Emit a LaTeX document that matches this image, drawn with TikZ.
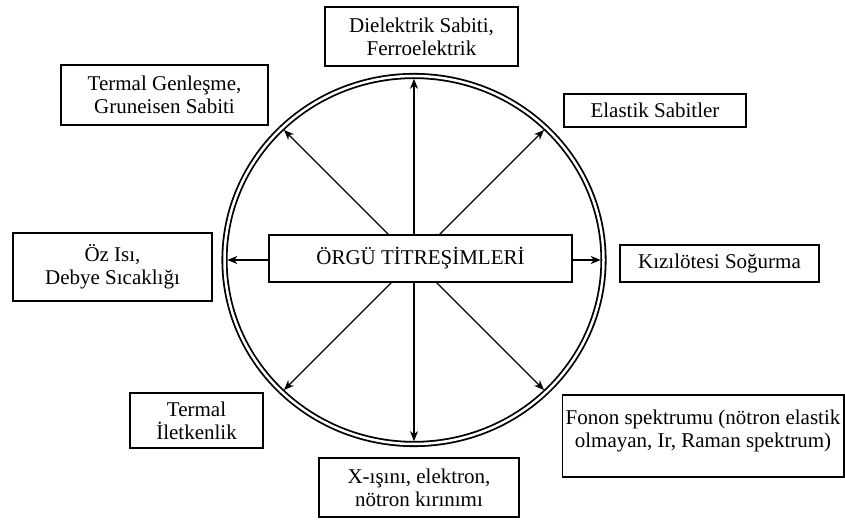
\documentclass[tikz,border=0pt]{standalone}
\usepackage{fontspec}
\setmainfont{Liberation Serif}
\usetikzlibrary{arrows.meta,shapes.geometric}

\begin{document}
\begin{tikzpicture}[x=1pt,y=1pt]
  \tikzset{info box/.style={draw,line width=1.6pt,align=center,minimum width=#1,
      font=\fontsize{21}{23}\selectfont},
    ray/.style={line width=1.3pt,-{Stealth[length=10pt,width=8pt,inset=3pt]},shorten >=2.8pt}}
  \useasboundingbox (0,0) rectangle (845,519);

  \node (ring) [draw,ellipse,line width=1.8pt,double,double distance=2.5pt,
    inner sep=0pt,outer sep=0pt,minimum width=379pt,minimum height=368pt] at (414,259) {};
  \foreach \a in {0,45,90,135,180,225,270,315}
    \draw [ray] (ring.center) -- (ring.\a);
  \node (core) [info box=303pt,minimum height=47pt,fill=white] at (420.5,260.5) {ÖRGÜ TİTREŞİMLERİ};

  \node (diel) [info box=193pt,minimum height=59pt] at (421.5,482.5) {Dielektrik Sabiti,\\Ferroelektrik};
  \node (genl) [info box=207pt,minimum height=60pt] at (164.5,424) {Termal Genleşme,\\Gruneisen Sabiti};
  \node (elas) [info box=182pt,minimum height=33pt] at (655,408.5) {Elastik Sabitler};
  \node (ozisi) [info box=199pt,minimum height=68pt] at (112.5,252) {Öz Isı,\\Debye Sıcaklığı};
  \node (kizil) [info box=199pt,minimum height=37pt] at (719.5,255.5) {Kızılötesi Soğurma};
  \node (ilet) [info box=133pt,minimum height=55pt] at (196.5,98.5) {Termal\\İletkenlik};
  \node (xray) [info box=200pt,minimum height=59pt] at (419,31.5) {X-ışını, elektron,\\nötron kırınımı};
  \node (fonon) [info box=280pt,minimum height=82pt,text depth=14pt] at (703,83) {Fonon spektrumu (nötron elastik\\olmayan, Ir, Raman spektrum)};
\end{tikzpicture}
\end{document}
